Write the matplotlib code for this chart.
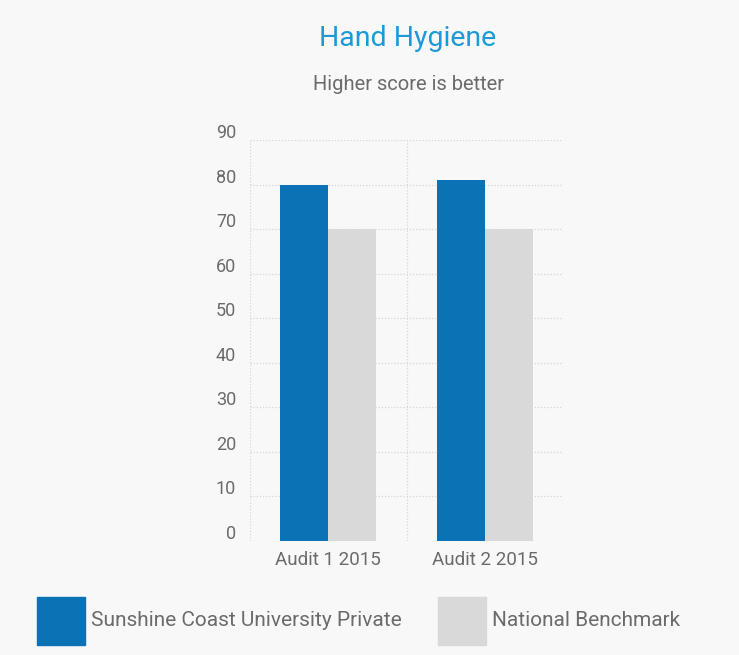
import numpy as np
import matplotlib
matplotlib.use("Agg")
import matplotlib.pyplot as plt
from matplotlib.patches import Rectangle
from matplotlib.transforms import ScaledTranslation

plt.rcParams['font.family'] = ['Roboto', 'DejaVu Sans']

# --- DATA ---
categories = ["Audit 1 2015", "Audit 2 2015"]
series_names = ["Sunshine Coast University Private", "National Benchmark"]
scup = [80, 81]
benchmark = [70, 70]
yticks = [0, 10, 20, 30, 40, 50, 60, 70, 80, 90]

blue = "#0a72b5"
grey = "#d9d9d9"
bg = "#f8f8f8"
txt = "#6b6b6b"

W, H = 739, 655
fig = plt.figure(figsize=(W/100, H/100), dpi=100, facecolor=bg)
# axes: x 250..563 px, y 140..541 px
ax = fig.add_axes([250/W, 1-541/H, (563-250)/W, (541-140)/H])
ax.set_facecolor(bg)

x = np.arange(len(categories))
bw = 0.307
ax.bar(x - bw/2, scup, width=bw, color=blue, zorder=3)
ax.bar(x + bw/2, benchmark, width=bw, color=grey, zorder=3)

ax.set_xlim(-0.5, 1.5)
ax.set_ylim(0, 90)
ax.set_yticks(yticks)
ax.set_xticks(x)
ax.set_xticklabels(categories)
ax.tick_params(axis='both', length=0, labelcolor=txt)
ax.tick_params(axis='y', pad=10, labelsize=13)
ax.tick_params(axis='x', pad=7, labelsize=13.5)
off = ScaledTranslation(0, 9/100, fig.dpi_scale_trans)
for lbl in ax.get_yticklabels():
    lbl.set_transform(lbl.get_transform() + off)

ax.grid(axis='y', color='#d6d6d6', linestyle=(0, (1, 1.5)), linewidth=0.9, zorder=0)
for xv in [-0.5, 0.5, 1.5]:
    ax.axvline(xv, color='#d6d6d6', linestyle=(0, (1, 1.5)), linewidth=0.9, zorder=0)
for s in ax.spines.values():
    s.set_visible(False)

fig.text(408/W, 1-38/H, "Hand Hygiene", ha='center', va='center',
         fontsize=20.5, color="#1b9ad8")
fig.text(408/W, 1-85/H, "Higher score is better", ha='center', va='center',
         fontsize=14.5, color=txt)

# legend
for (lx, name, col) in [(37, series_names[0], blue), (438, series_names[1], grey)]:
    fig.patches.append(Rectangle((lx/W, 1-645/H), 48/W, 48/H, color=col,
                                 transform=fig.transFigure, figure=fig))
    fig.text((lx+54)/W, 1-620/H, name, ha='left', va='center',
             fontsize=15, color=txt)

fig.savefig("out.png", dpi=100, facecolor=bg)
